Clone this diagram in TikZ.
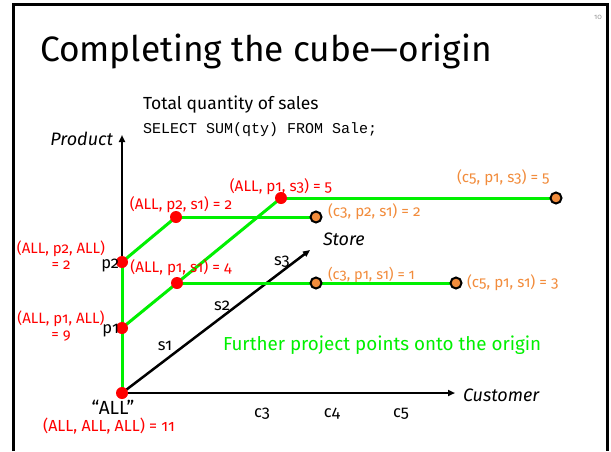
\documentclass[tikz,border=0pt]{standalone}
\usepackage{fontspec}
\setmainfont{Fira Sans}[Numbers=OldStyle]
\setmonofont{Liberation Mono}
\usetikzlibrary{arrows.meta}
\pgfdeclarelayer{background}
\pgfsetlayers{background,main}
\definecolor{cred}{RGB}{255,0,0}
\definecolor{corange}{RGB}{242,140,60}
\definecolor{cgreen}{RGB}{0,240,0}
\definecolor{cgray}{RGB}{150,150,150}
\begin{document}
\begin{tikzpicture}[x=1pt,y=-1pt,
  lbl/.style={inner sep=0pt, outer sep=0pt},
  redlbl/.style={lbl, text=cred, font=\fontsize{15.3}{18}\selectfont, anchor=base},
  orlbl/.style={lbl, text=corange, font=\fontsize{15.2}{18}\selectfont, anchor=base west},
  blk/.style={lbl, font=\fontsize{16.5}{19}\selectfont, anchor=base},
  axlbl/.style={lbl, font=\itshape\fontsize{18}{21}\selectfont},
  reddot/.style={circle, fill=cred, minimum size=12pt, inner sep=0pt, outer sep=0pt},
  ordot/.style={circle, fill=corange, draw=black, line width=2pt, minimum size=11pt, inner sep=0pt, outer sep=0pt},
  axis/.style={line width=2.5pt, -{Triangle[length=7pt,width=6pt]}},
  gline/.style={line width=3pt, cgreen},
  frame/.style={line width=3pt}
]
\useasboundingbox (0,0) rectangle (611,451);
\begin{pgfonlayer}{background}
\fill[white] (0,0) rectangle (611,451);
\end{pgfonlayer}
\draw[frame] (13,451) -- (13,4) -- (607.5,4) -- (607.5,451);

% title and page number
\node[lbl, anchor=base west, font=\fontsize{35.3}{42}\selectfont] (title) at (40,61) {Completing the cube---origin};
\node[lbl, text=cgray, font=\fontsize{7.5}{9}\selectfont] (pg) at (598,17) {10};

% header texts
\node[lbl, anchor=base west, font=\fontsize{17.5}{21}\selectfont] (tq) at (143,109) {Total quantity of sales};
\node[lbl, anchor=base west, font=\ttfamily\fontsize{15}{18}\selectfont] (sql) at (143,133) {SELECT SUM(qty) FROM Sale;};

% dots
\node[reddot] (O) at (122,393) {};
\node[reddot] (p1) at (122,328) {};
\node[reddot] (p2) at (122,262) {};
\node[reddot] (A) at (177,283) {};
\node[reddot] (B) at (176,217) {};
\node[reddot] (C) at (281,198) {};
\node[ordot] (D) at (316,217) {};
\node[ordot] (E) at (556,198) {};
\node[ordot] (F) at (316,283) {};
\node[ordot] (G) at (456,283) {};

% axis ends
\coordinate (ptip) at (122,135);
\coordinate (ctip) at (455,393);
\coordinate (stip) at (310,250);

\begin{pgfonlayer}{background}
\draw[axis] (O.center) -- (ptip);
\draw[axis] (O.center) -- (ctip);
\draw[axis] (O.center) -- (stip);
\draw[gline] (O.center) -- (p2.center);
\draw[gline] (p1.center) -- (C.center);
\draw[gline] (p2.center) -- (B.center);
\draw[gline] (B.center) -- (D.center);
\draw[gline] (C.center) -- (E.center);
\draw[gline] (A.center) -- (G.center);
\end{pgfonlayer}

% axis labels
\node[axlbl, anchor=base east] (prod) at (113,145) {Product};
\node[axlbl, anchor=base west] (cust) at (463,401) {Customer};
\node[axlbl, anchor=base west] (store) at (323,245) {Store};

% tick labels
\node[blk, anchor=base east] (lp1) at (119,333) {p1};
\node[blk, anchor=base east] (lp2) at (119,268) {p2};
\node[blk] (ls1) at (165,350) {s1};
\node[blk] (ls2) at (222,310) {s2};
\node[blk] (ls3) at (282,265) {s3};
\node[blk] (lc3) at (262,417) {c3};
\node[blk] (lc4) at (332,417) {c4};
\node[blk] (lc5) at (401,417) {c5};
\node[blk, font=\fontsize{19}{22}\selectfont] (lall) at (113,414) {``ALL''};

% red labels
\node[redlbl] (tC) at (281,191) {(ALL, p1, s3) = 5};
\node[redlbl] (tB) at (181,209) {(ALL, p2, s1) = 2};
\node[redlbl] (tA) at (181,272) {(ALL, p1, s1) = 4};
\node[redlbl, font=\fontsize{15}{18}\selectfont] (tp2a) at (61,253) {(ALL, p2, ALL)};
\node[redlbl, font=\fontsize{15}{18}\selectfont] (tp2b) at (61,269) {= 2};
\node[redlbl, font=\fontsize{15}{18}\selectfont] (tp1a) at (61,323) {(ALL, p1, ALL)};
\node[redlbl, font=\fontsize{15}{18}\selectfont] (tp1b) at (61,339) {= 9};
\node[redlbl, font=\fontsize{16}{19}\selectfont] (tO) at (109,431) {(ALL, ALL, ALL) = 11};

% orange labels
\node[orlbl] (tD) at (328,216) {(c3, p2, s1) = 2};
\node[orlbl] (tE) at (457,182) {(c5, p1, s3) = 5};
\node[orlbl, font=\fontsize{14.6}{17}\selectfont] (tF) at (328,279) {(c3, p1, s1) = 1};
\node[orlbl] (tG) at (467,287) {(c5, p1, s1) = 3};

% note
\node[lbl, anchor=base west, text=cgreen, font=\fontsize{18.8}{22}\selectfont] (note) at (223,350) {Further project points onto the origin};
\end{tikzpicture}
\end{document}
